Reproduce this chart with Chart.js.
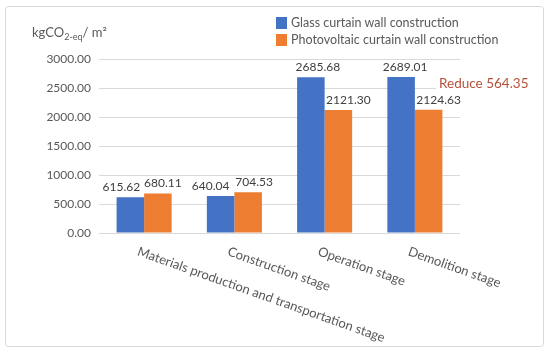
<!DOCTYPE html>
<html>
<head>
<meta charset="utf-8">
<script src="https://cdn.jsdelivr.net/npm/chart.js@4"></script>
<style>
  html, body { margin: 0; padding: 0; background: #fff; }
  #wrap { width: 550px; height: 352px; position: relative; }
</style>
</head>
<body>
<div id="wrap"><canvas id="myChart"></canvas></div>
<script>
const stages = ['Materials production and transportation stage', 'Construction stage', 'Operation stage', 'Demolition stage'];
const glassValues = [615.62, 640.04, 2685.68, 2689.01];
const pvValues = [680.11, 704.53, 2121.30, 2124.63];
const seriesNames = ['Glass curtain wall construction', 'Photovoltaic curtain wall construction'];
const yTicks = [0, 500, 1000, 1500, 2000, 2500, 3000];
const note = 'Reduce 564.35';

const FONT = 'Lato, "Open Sans", sans-serif';
const textGray = '#595959';

// small nudges for the value labels, like the excel ones
const labelShift = [[-9, -10, 7, 4], [5, 6, 10, 10]];

const extras = {
  id: 'extras',
  beforeDraw(chart) {
    const c = chart.ctx;
    c.save();
    c.fillStyle = '#fff';
    c.fillRect(0, 0, chart.width, chart.height);
    c.strokeStyle = '#d9d9d9';
    c.lineWidth = 1;
    c.beginPath();
    c.roundRect(5.5, 6.5, 538, 340, 3);
    c.stroke();
    c.restore();
  },
  afterDraw(chart) {
    const c = chart.ctx;
    const xs = chart.scales.x;
    c.save();

    // axis title with subscript
    c.fillStyle = textGray;
    c.textBaseline = 'alphabetic';
    c.textAlign = 'left';
    let x = 32;
    c.font = '13px ' + FONT;
    c.fillText('kgCO', x, 37);
    x += c.measureText('kgCO').width;
    c.font = '9px ' + FONT;
    c.fillText('2-eq', x, 40);
    x += c.measureText('2-eq').width;
    c.font = '13px ' + FONT;
    c.fillText('/ m²', x, 37);

    // legend
    const colors = chart.data.datasets.map(d => d.backgroundColor);
    c.font = '12.5px ' + FONT;
    c.textBaseline = 'middle';
    seriesNames.forEach((name, i) => {
      const y = 23 + i * 17;
      c.fillStyle = colors[i];
      c.fillRect(276, y - 6, 11, 12);
      c.fillStyle = textGray;
      c.fillText(name, 291, y);
    });

    // value labels
    c.font = '12px ' + FONT;
    c.fillStyle = '#404040';
    c.textAlign = 'center';
    c.textBaseline = 'bottom';
    chart.data.datasets.forEach((ds, di) => {
      chart.getDatasetMeta(di).data.forEach((bar, i) => {
        c.fillText(ds.data[i].toFixed(2), bar.x + labelShift[di][i], bar.y - 4);
      });
    });

    // rotated category labels
    c.font = '13px ' + FONT;
    c.fillStyle = textGray;
    c.textAlign = 'left';
    c.textBaseline = 'top';
    stages.forEach((s, i) => {
      const px = xs.getPixelForTick(i);
      c.save();
      c.translate(px - 4, 245);
      c.rotate(19.5 * Math.PI / 180);
      c.fillText(s, 0, 0);
      c.restore();
    });

    // note
    c.font = '13.5px ' + FONT;
    c.textAlign = 'left';
    c.textBaseline = 'middle';
    const w = c.measureText(note).width;
    c.fillStyle = '#fff';
    c.fillRect(436, 75, w + 6, 17);
    c.fillStyle = '#B4513A';
    c.fillText(note, 439, 84);
    c.restore();
  }
};

function createChart() {
  const ctx = document.getElementById('myChart');
  new Chart(ctx, {
    type: 'bar',
    data: {
      labels: stages,
      datasets: [
        { label: seriesNames[0], data: glassValues, backgroundColor: '#4472C4' },
        { label: seriesNames[1], data: pvValues, backgroundColor: '#ED7D31' }
      ]
    },
    options: {
      responsive: true,
      maintainAspectRatio: false,
      animation: false,
      devicePixelRatio: 1,
      layout: { padding: { left: 0, top: 59, right: 90, bottom: 119 } },
      datasets: { bar: { categoryPercentage: 0.61, barPercentage: 1.0 } },
      plugins: { legend: { display: false }, tooltip: { enabled: false } },
      scales: {
        x: {
          grid: { display: false, drawTicks: false },
          border: { display: false },
          ticks: { display: false }
        },
        y: {
          min: 0,
          max: 3000,
          afterBuildTicks: scale => { scale.ticks = yTicks.map(v => ({ value: v })); },
          afterFit: scale => { scale.width = 99; },
          grid: { color: '#d9d9d9', drawTicks: false },
          border: { display: false },
          ticks: {
            padding: 8,
            color: textGray,
            font: { family: FONT, size: 12 },
            callback: v => v.toFixed(2)
          }
        }
      }
    },
    plugins: [extras]
  });
}
createChart();
</script>
</body>
</html>
